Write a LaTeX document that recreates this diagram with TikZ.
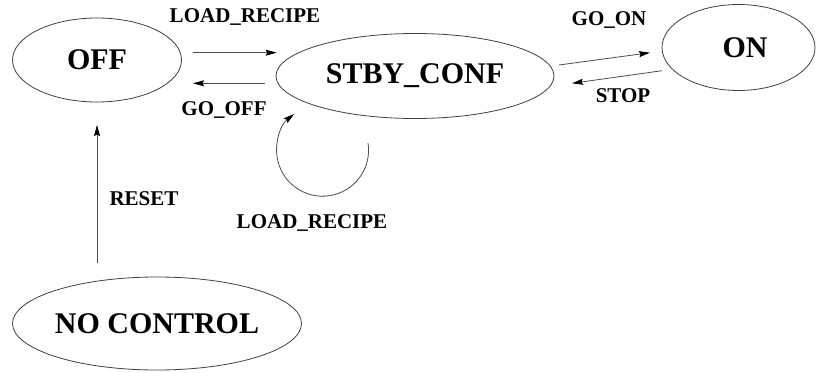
\documentclass[tikz,border=0pt]{standalone}
\usepackage{fontspec}
\setmainfont{Liberation Serif}
\usetikzlibrary{shapes.geometric,arrows.meta}
\tikzset{
  state/.style={ellipse, draw=black!75, line width=0.8pt, inner sep=0pt, font=\fontsize{30}{30}\selectfont\bfseries},
  lbl/.style={inner sep=0pt, anchor=base, font=\fontsize{21}{21}\selectfont\bfseries},
  conn/.style={draw=black!70, line width=0.8pt, -{Stealth[length=11pt,width=6pt,inset=1.5pt,color=black]}}
}
\begin{document}
\begin{tikzpicture}[x=1pt,y=-1pt]
\useasboundingbox (0,0) rectangle (816,372);
% states
\node[state, minimum width=169, minimum height=84] (off) at (97,60) {OFF};
\node[state, minimum width=278, minimum height=85] (stby) at (415,76) {STBY\_CONF};
\node[state, minimum width=153, minimum height=86] (on) at (738.5,47.5) {\hspace*{13pt}ON};
\node[state, minimum width=289, minimum height=93] (noc) at (157,323.5) {NO CONTROL};
% connector ends
\coordinate (a1) at (192.7,52.7);
\coordinate (a2) at (276.7,52.7);
\coordinate (b1) at (265,83.3);
\coordinate (b2) at (193,83.3);
\coordinate (c1) at (559,65);
\coordinate (c2) at (650,52.7);
\coordinate (d1) at (662,70.7);
\coordinate (d2) at (572,83.3);
\coordinate (e1) at (97,263);
\coordinate (e2) at (97,125);
\coordinate (loopstart) at (368,143);
% connectors
\draw[conn] (a1) -- (a2);
\draw[conn] (b1) -- (b2);
\draw[conn] (c1) -- (c2);
\draw[conn] (d1) -- (d2);
\draw[conn] (e1) -- (e2);
\draw[conn] (loopstart) arc[start angle=-9, end angle=232, radius=46];
% labels
\node[lbl] (l1) at (245,23) {LOAD\_RECIPE};
\node[lbl] (l2) at (224,115) {GO\_OFF};
\node[lbl] (l3) at (609,25) {GO\_ON};
\node[lbl] (l4) at (623,102) {STOP};
\node[lbl] (l5) at (144,205) {RESET};
\node[lbl] (l6) at (312,228) {LOAD\_RECIPE};
\end{tikzpicture}
\end{document}
